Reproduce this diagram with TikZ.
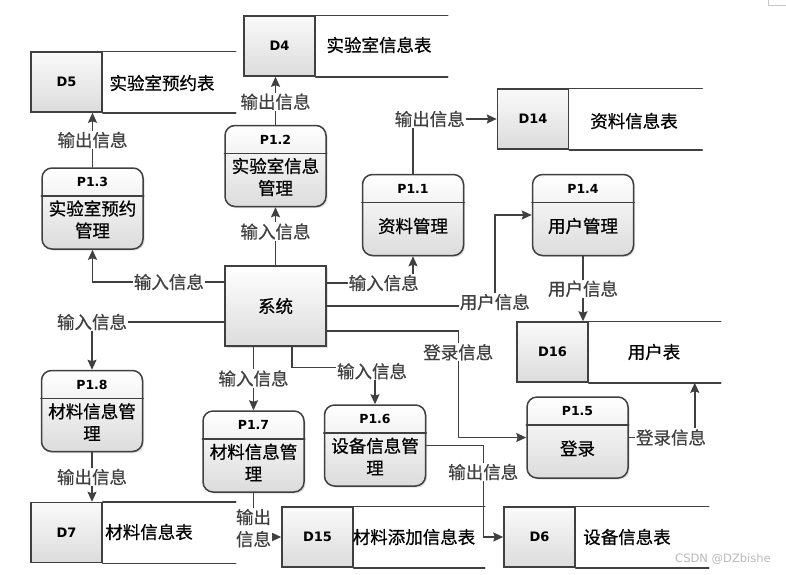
\documentclass[tikz,border=0pt]{standalone}
\usepackage{fontspec}
\newfontfamily\cjk{Noto Sans CJK SC}[FakeBold=0.6]
\newfontfamily\idfont{DejaVu Sans}
\usepackage{tikz}
\usetikzlibrary{arrows.meta,shadows}
\definecolor{dfdline}{RGB}{64,64,64}
\definecolor{dfdshade}{RGB}{220,220,220}
\tikzset{
  link/.style={dfdline, line width=1.5pt},
  flow/.style={link, -{Stealth[length=10pt,width=9pt,inset=1.5pt]}},
  pbox/.style={draw=dfdline, line width=1.5pt, rounded corners=10pt,
               top color=white, bottom color=dfdshade, inner sep=0pt,
               minimum width=101pt, minimum height=81pt,
               drop shadow={shadow xshift=1.5pt, shadow yshift=-1.5pt, opacity=0.25}},
  sysbox/.style={draw=dfdline, line width=1.5pt, top color=white, bottom color=dfdshade,
               minimum width=101pt, minimum height=80pt,
               font=\cjk\fontsize{17.5}{22}\selectfont,
               drop shadow={shadow xshift=1.5pt, shadow yshift=-1.5pt, opacity=0.25}},
  idbox/.style={draw=dfdline, line width=1.5pt, top color=gray!4, bottom color=dfdshade,
               minimum width=71pt, minimum height=60pt, inner sep=0pt,
               font=\idfont\bfseries\fontsize{13}{15}\selectfont},
  ptitle/.style={font=\idfont\bfseries\fontsize{12.5}{15}\selectfont, inner sep=0pt},
  ptext/.style={font=\cjk\fontsize{17.5}{22}\selectfont, align=center, inner sep=0pt},
  stext/.style={font=\cjk\fontsize{17.5}{22}\selectfont, inner sep=0pt},
  lbl/.style={font=\cjk\fontsize{17.5}{22}\selectfont, fill=white, inner sep=1pt, align=center},
}

\begin{document}
\begin{tikzpicture}[x=1pt,y=-1pt,line cap=round]
  \useasboundingbox (0,0) rectangle (786,574);
  \fill[white] (0,0) rectangle (786,574);
  \draw[gray!45, line width=0.8pt] (768,0) -- (768,5) -- (786,5);
  % ====== data stores ======
  \node[idbox] (d5)  at (66.5,82)    {D5};
  \node[idbox] (d4)  at (279.5,46)   {D4};
  \node[idbox] (d14) at (533,119)    {D14};
  \node[idbox] (d16) at (552.5,352)  {D16};
  \node[idbox] (d7)  at (66.5,532.5) {D7};
  \node[idbox] (d15) at (317.5,537)  {D15};
  \node[idbox] (d6)  at (539.5,537)  {D6};
  \draw[link] (d5.north east) -- ++(133,0);  \draw[link] (d5.south east) -- ++(133,0);
  \draw[link] (d4.north east) -- ++(132,0);  \draw[link] (d4.south east) -- ++(132,0);
  \draw[link] (d14.north east) -- ++(133,0); \draw[link] (d14.south east) -- ++(133,0);
  \draw[link] (d16.north east) -- ++(132,0); \draw[link] (d16.south east) -- ++(132,0);
  \draw[link] (d7.north east) -- ++(133,0);  \draw[link] (d7.south east) -- ++(133,0);
  \draw[link] (d15.north east) -- ++(131,0); \draw[link] (d15.south east) -- ++(131,0);
  \draw[link] (d6.north east) -- ++(133,0);  \draw[link] (d6.south east) -- ++(133,0);
  \node[stext] (d5t)  at (162,83)  {实验室预约表};
  \node[stext] (d4t)  at (379,45)  {实验室信息表};
  \node[stext] (d14t) at (634,121) {资料信息表};
  \node[stext] (d16t) at (654,352) {用户表};
  \node[stext] (d7t)  at (149,532) {材料信息表};
  \node[stext] (d15t) at (414,537) {材料添加信息表};
  \node[stext] (d6t)  at (627,537) {设备信息表};
  % ====== processes ======
  \node[pbox] (p13) at (92.5,208.5) {};
  \node[pbox] (p12) at (275.5,166)  {};
  \node[pbox] (p11) at (413,215)    {};
  \node[pbox] (p14) at (583,215)    {};
  \node[pbox] (p18) at (92,411)     {};
  \node[pbox] (p17) at (253.5,451.5) {};
  \node[pbox] (p16) at (375,445.5)  {};
  \node[pbox] (p15) at (577.5,437.5) {};
  \draw[link] ([yshift=-28.5pt]p13.north west) -- ([yshift=-28.5pt]p13.north east);
  \draw[link] ([yshift=-28.5pt]p12.north west) -- ([yshift=-28.5pt]p12.north east);
  \draw[link] ([yshift=-28.5pt]p11.north west) -- ([yshift=-28.5pt]p11.north east);
  \draw[link] ([yshift=-28.5pt]p14.north west) -- ([yshift=-28.5pt]p14.north east);
  \draw[link] ([yshift=-28.5pt]p18.north west) -- ([yshift=-28.5pt]p18.north east);
  \draw[link] ([yshift=-28.5pt]p17.north west) -- ([yshift=-28.5pt]p17.north east);
  \draw[link] ([yshift=-28.5pt]p16.north west) -- ([yshift=-28.5pt]p16.north east);
  \draw[link] ([yshift=-28.5pt]p15.north west) -- ([yshift=-28.5pt]p15.north east);
  \node[ptitle] (p13id) at ([yshift=-15pt]p13.north) {P1.3};
  \node[ptitle] (p12id) at ([yshift=-15pt]p12.north) {P1.2};
  \node[ptitle] (p11id) at ([yshift=-15pt]p11.north) {P1.1};
  \node[ptitle] (p14id) at ([yshift=-15pt]p14.north) {P1.4};
  \node[ptitle] (p18id) at ([yshift=-15pt]p18.north) {P1.8};
  \node[ptitle] (p17id) at ([yshift=-15pt]p17.north) {P1.7};
  \node[ptitle] (p16id) at ([yshift=-15pt]p16.north) {P1.6};
  \node[ptitle] (p15id) at ([yshift=-15pt]p15.north) {P1.5};
  \node[ptext] (p13tx) at ([yshift=-11pt]p13.center) {实验室预约\\管理};
  \node[ptext] (p12tx) at ([yshift=-11pt]p12.center) {实验室信息\\管理};
  \node[ptext] (p11tx) at ([yshift=-11pt]p11.center) {资料管理};
  \node[ptext] (p14tx) at ([yshift=-11pt]p14.center) {用户管理};
  \node[ptext] (p18tx) at ([yshift=-11pt]p18.center) {材料信息管\\理};
  \node[ptext] (p17tx) at ([yshift=-11pt]p17.center) {材料信息管\\理};
  \node[ptext] (p16tx) at ([yshift=-11pt]p16.center) {设备信息管\\理};
  \node[ptext] (p15tx) at ([yshift=-11pt]p15.center) {登录};
  % ====== system ======
  \node[sysbox] (sys) at (275.5,306) {系统};
  % ====== upper flows ======
  \draw[flow] (p13.north) -- node[lbl] {输出信息} (p13.north |- d5.south);
  \draw[flow] (p12.north) -- node[lbl, pos=0.48] {输出信息} (p12.north |- d4.south);
  \draw[flow] (sys.north) -- node[lbl, pos=0.58] {输入信息} (p12.south);
  \draw[flow] ([yshift=24pt]sys.west) -| node[lbl, pos=0.21] {输入信息} (p13.south);
  \draw[flow] ([yshift=23pt]sys.east) -| node[lbl, pos=0.33] {输入信息} (p11.south);
  \draw[flow] (p11.north) |- node[lbl, pos=0.6] {输出信息} (d14.west);
  \draw[flow] (sys.east) -| node[lbl, pos=0.5, yshift=4pt] {用户信息} ([xshift=-37pt]p14.west) -- (p14.west);
  \draw[flow] (p14.south) -- node[lbl] {用户信息} (p14.south |- d16.north);
  \draw[flow] ([yshift=-25pt]sys.east) -| node[lbl, pos=0.6] {登录信息} ([xshift=-68pt]p15.west) -- (p15.west);
  \draw[flow] (p15.east) -| node[lbl, pos=0.32] {登录信息} ([xshift=106pt]d16.south east);
  % ====== lower flows ======
  \draw[flow] ([yshift=-16pt]sys.west) -| node[lbl] {输入信息} (p18.north);
  \draw[flow] (p18.south) -- node[lbl] {输出信息} (p18.south |- d7.north);
  \draw[flow] (p17.north |- sys.south) -- node[lbl] {输入信息} (p17.north);
  \draw[flow] ([xshift=16.5pt]sys.south) |- node[lbl, pos=1, xshift=-3pt, yshift=-4pt] {输入信息} ([yshift=37pt]p16.north) -- (p16.north);
  \draw[flow] (p16.east) -| node[lbl, pos=0.645] {输出信息} ([xshift=-20pt]d6.west) -- (d6.west);
  \draw[flow] (p17.south) |- node[lbl, pos=0.4] {输出\\信息} (d15.west);
  \node[font=\idfont\fontsize{11.5}{13}\selectfont, text=gray!55] (wm) at (723,559) {CSDN @DZbishe};
\end{tikzpicture}
\end{document}
